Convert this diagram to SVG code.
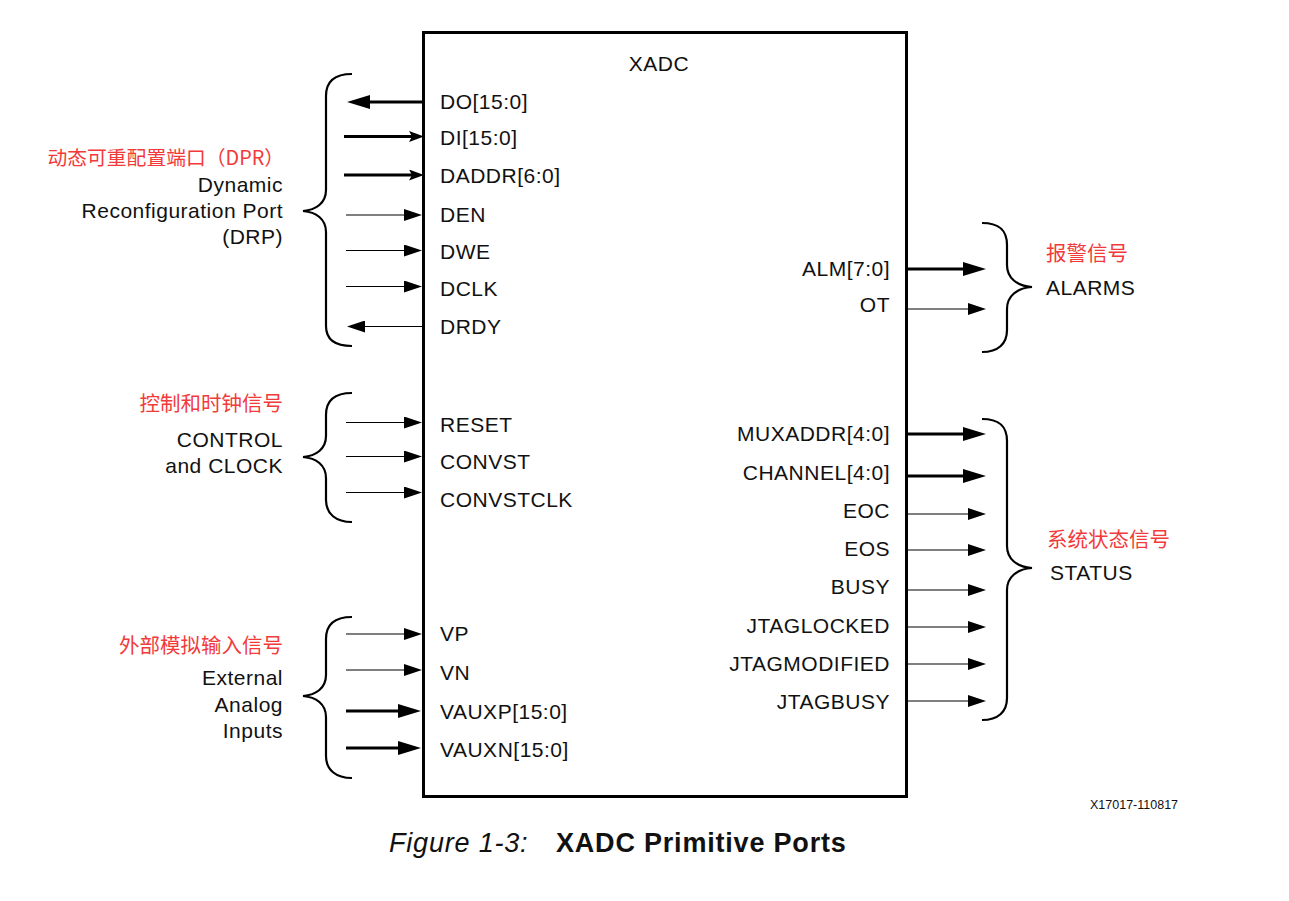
<svg xmlns="http://www.w3.org/2000/svg" width="1289" height="901" viewBox="0 0 1289 901">
<style>
text{font-family:"Liberation Sans",Arial,"Noto Sans CJK SC",sans-serif;fill:#111;}
.p{font-size:21px;letter-spacing:0.5px;}
.e{text-anchor:end;}
.cn{font-family:"Noto Sans CJK SC","Liberation Sans",sans-serif;font-size:20.5px;fill:#f23a3a;letter-spacing:0;}
.thin{stroke:#000;stroke-width:1.2;fill:none;}
.thick{stroke:#000;stroke-width:3.2;fill:none;}
.brace{stroke:#000;stroke-width:2.2;fill:none;}
</style>
<defs>
<marker id="ah" markerUnits="userSpaceOnUse" markerWidth="18" markerHeight="12" refX="10" refY="6" orient="auto"><path d="M0,0 L18,6 L0,12 z" fill="#000"/></marker>
<marker id="ahb" markerUnits="userSpaceOnUse" markerWidth="23" markerHeight="14" refX="13" refY="7" orient="auto"><path d="M0,0 L23,7 L0,14 z" fill="#000"/></marker>
<marker id="ahn" markerUnits="userSpaceOnUse" markerWidth="15" markerHeight="11" refX="7" refY="5.5" orient="auto"><path d="M0,0 L15,5.5 L0,11 L3,5.5 z" fill="#000"/></marker>
</defs>
<rect width="1289" height="901" fill="#fff"/>

<g id="xadc">
<rect x="423.5" y="32.5" width="483" height="764" fill="none" stroke="#000" stroke-width="3"/>
<text class="p" x="659" y="71" text-anchor="middle">XADC</text>
<text class="p" x="440" y="108.5">DO[15:0]</text>
<text class="p" x="440" y="145">DI[15:0]</text>
<text class="p" x="440" y="182.5">DADDR[6:0]</text>
<text class="p" x="440" y="221.5">DEN</text>
<text class="p" x="440" y="258.5">DWE</text>
<text class="p" x="440" y="296">DCLK</text>
<text class="p" x="440" y="334">DRDY</text>
<text class="p" x="440" y="432">RESET</text>
<text class="p" x="440" y="469">CONVST</text>
<text class="p" x="440" y="506.5">CONVSTCLK</text>
<text class="p" x="440" y="641">VP</text>
<text class="p" x="440" y="680">VN</text>
<text class="p" x="440" y="719">VAUXP[15:0]</text>
<text class="p" x="440" y="757">VAUXN[15:0]</text>
<text class="p e" x="890" y="275.5">ALM[7:0]</text>
<text class="p e" x="890" y="311.5">OT</text>
<text class="p e" x="890" y="441">MUXADDR[4:0]</text>
<text class="p e" x="890" y="479.5">CHANNEL[4:0]</text>
<text class="p e" x="890" y="517.5">EOC</text>
<text class="p e" x="890" y="556">EOS</text>
<text class="p e" x="890" y="594">BUSY</text>
<text class="p e" x="890" y="632.5">JTAGLOCKED</text>
<text class="p e" x="890" y="670.5">JTAGMODIFIED</text>
<text class="p e" x="890" y="709">JTAGBUSY</text>
</g>

<g id="connectors">
<line class="thick" x1="423" y1="102" x2="357" y2="102" marker-end="url(#ahb)"/>
<line class="thick" x1="344" y1="136.5" x2="416" y2="136.5" marker-end="url(#ahn)"/>
<line class="thick" x1="344" y1="175" x2="416" y2="175" marker-end="url(#ahn)"/>
<line class="thin" x1="346" y1="215" x2="414" y2="215" marker-end="url(#ah)"/>
<line class="thin" x1="346" y1="250.5" x2="414" y2="250.5" marker-end="url(#ah)"/>
<line class="thin" x1="346" y1="286.5" x2="414" y2="286.5" marker-end="url(#ah)"/>
<line class="thin" x1="423" y1="326.5" x2="355" y2="326.5" marker-end="url(#ah)"/>
<line class="thin" x1="346" y1="422.5" x2="414" y2="422.5" marker-end="url(#ah)"/>
<line class="thin" x1="346" y1="456.5" x2="414" y2="456.5" marker-end="url(#ah)"/>
<line class="thin" x1="346" y1="492.5" x2="414" y2="492.5" marker-end="url(#ah)"/>
<line class="thin" x1="346" y1="634" x2="414" y2="634" marker-end="url(#ah)"/>
<line class="thin" x1="346" y1="670" x2="414" y2="670" marker-end="url(#ah)"/>
<line class="thick" x1="346" y1="711" x2="411" y2="711" marker-end="url(#ahb)"/>
<line class="thick" x1="346" y1="748" x2="411" y2="748" marker-end="url(#ahb)"/>
<line class="thick" x1="907" y1="269" x2="976" y2="269" marker-end="url(#ahb)"/>
<line class="thin" x1="907" y1="309" x2="978" y2="309" marker-end="url(#ah)"/>
<line class="thick" x1="907" y1="434" x2="976" y2="434" marker-end="url(#ahb)"/>
<line class="thick" x1="907" y1="476" x2="976" y2="476" marker-end="url(#ahb)"/>
<line class="thin" x1="907" y1="514" x2="978" y2="514" marker-end="url(#ah)"/>
<line class="thin" x1="907" y1="550" x2="978" y2="550" marker-end="url(#ah)"/>
<line class="thin" x1="907" y1="590" x2="978" y2="590" marker-end="url(#ah)"/>
<line class="thin" x1="907" y1="627" x2="978" y2="627" marker-end="url(#ah)"/>
<line class="thin" x1="907" y1="664" x2="978" y2="664" marker-end="url(#ah)"/>
<line class="thin" x1="907" y1="701" x2="978" y2="701" marker-end="url(#ah)"/>
</g>

<g id="drp">
<path class="brace" d="M352,74 C336,74 326,80 326,96 L326,190 C326,203 316,210 303,211 C316,212 326,219 326,232 L326,326 C326,340 336,346 352,346"/>
<text class="cn e" x="284" y="164.5" style="font-size:19.8px">动态可重配置端口（DPR）</text>
<text class="p e" x="283" y="192">Dynamic</text>
<text class="p e" x="283" y="218">Reconfiguration Port</text>
<text class="p e" x="283" y="244">(DRP)</text>
</g>

<g id="control">
<path class="brace" d="M352,393 C336,393 326,399 326,415 L326,436 C326,449 316,456 303,457 C316,458 326,465 326,478 L326,500 C326,514 336,522 352,522"/>
<text class="cn e" x="283" y="410.5">控制和时钟信号</text>
<text class="p e" x="283" y="446.5">CONTROL</text>
<text class="p e" x="283" y="473">and CLOCK</text>
</g>

<g id="analog">
<path class="brace" d="M352,617 C336,617 326,623 326,639 L326,675 C326,688 316,695 303,696 C316,697 326,704 326,717 L326,756 C326,770 336,778 352,778"/>
<text class="cn e" x="283" y="652.5">外部模拟输入信号</text>
<text class="p e" x="283" y="685">External</text>
<text class="p e" x="283" y="711.5">Analog</text>
<text class="p e" x="283" y="738">Inputs</text>
</g>

<g id="alarms">
<path class="brace" d="M982,223 C998,223 1007,229 1007,245 L1007,265 C1007,278 1017,286 1032,287 C1017,288 1007,296 1007,309 L1007,330 C1007,344 998,352 982,352"/>
<text class="cn" x="1046" y="260.5">报警信号</text>
<text class="p" x="1046" y="294.5">ALARMS</text>
</g>

<g id="status">
<path class="brace" d="M982,419 C998,419 1007,425 1007,441 L1007,546 C1007,559 1017,567 1032,568 C1017,569 1007,577 1007,590 L1007,698 C1007,712 998,720 982,720"/>
<text class="cn" x="1047" y="546.5">系统状态信号</text>
<text class="p" x="1050" y="580">STATUS</text>
</g>

<g id="caption">
<text x="1090" y="809" style="font-size:12.5px">X17017-110817</text>
<text x="389" y="852" style="font-size:27px;font-style:italic;letter-spacing:0.8px">Figure 1-3:</text>
<text x="556" y="852" style="font-size:27px;font-weight:bold;letter-spacing:0.8px">XADC Primitive Ports</text>
</g>
</svg>
